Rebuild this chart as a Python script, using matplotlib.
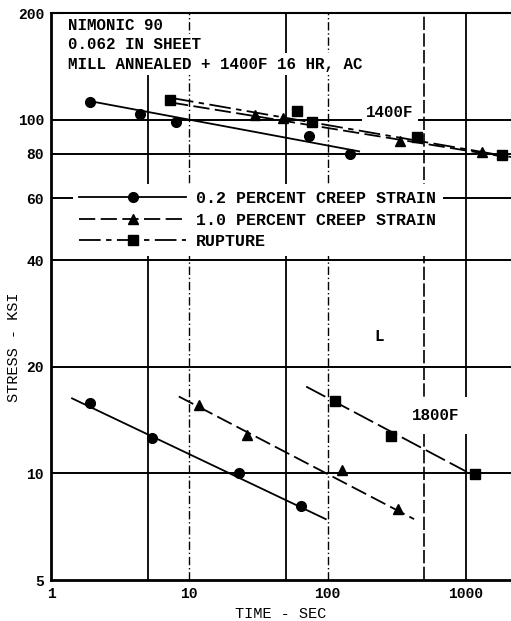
import numpy as np
import matplotlib
matplotlib.use("Agg")
import matplotlib.pyplot as plt
from matplotlib.lines import Line2D
from matplotlib.legend_handler import HandlerLine2D

plt.rcParams['font.family'] = ['Liberation Mono', 'DejaVu Sans Mono']
plt.rcParams['font.weight'] = 'bold'

# 1400 F test points (time in sec, stress in ksi)
t_c02_1400 = [1.9, 4.4, 8.0, 73, 145]
s_c02_1400 = [112, 104, 98.6, 89.6, 79.8]
t_c10_1400 = [30, 48, 334, 1307]
s_c10_1400 = [103, 101, 86.7, 80.8]
t_rup_1400 = [7.25, 60, 77, 443, 1824]
s_rup_1400 = [113.7, 106, 98.6, 89.1, 79.3]

# 1800 F test points
t_c02_1800 = [1.91, 5.37, 22.9, 64.2]
s_c02_1800 = [15.8, 12.6, 10.06, 8.08]
t_c10_1800 = [11.75, 26.1, 127, 323]
s_c10_1800 = [15.6, 12.85, 10.26, 7.93]
t_rup_1800 = [113, 287, 1164]
s_rup_1800 = [16.0, 12.8, 9.94]

# faired lines (end points)
fit_t_c02_1400 = [1.85, 169]
fit_s_c02_1400 = [113, 81.3]
fit_t_c10_1400 = [7.5, 1983]
fit_s_c10_1400 = [111.6, 78.3]
fit_t_rup_1400 = [7.5, 2155]
fit_s_rup_1400 = [115, 78.3]
fit_t_c02_1800 = [1.42, 97]
fit_s_c02_1800 = [16.3, 7.43]
fit_t_c10_1800 = [8.4, 422]
fit_s_c10_1800 = [16.5, 7.43]
fit_t_rup_1800 = [70, 1018]
fit_s_rup_1800 = [17.6, 10.1]

x_grid_solid = [5, 50, 1000]
x_grid_dashdot = [10, 100]
x_grid_dashed = [500]
y_grid = [10, 20, 40, 60, 80, 100]
x_ticks = [1, 10, 100, 1000]
y_ticks = [5, 10, 20, 40, 60, 80, 100, 200]

fig = plt.figure(figsize=(5.11, 6.21), dpi=100)
ax = fig.add_axes([51/511, 41/621, 460/511, 567/621])
ax.set_xscale('log')
ax.set_yscale('log')
ax.set_xlim(1, 2120)
ax.set_ylim(5, 200)

for x in x_grid_solid:
    ax.axvline(x, color='black', lw=1.3, zorder=1)
for x in x_grid_dashdot:
    ax.axvline(x, color='black', lw=1.0, ls=(0, (6, 2, 1, 2)), zorder=1)
for x in x_grid_dashed:
    ax.axvline(x, color='black', lw=1.2, ls=(0, (8, 2)), zorder=1)
for y in y_grid:
    ax.axhline(y, color='black', lw=1.4, zorder=1)

ls_c02 = '-'
ls_c10 = (0, (9, 3))
ls_rup = (0, (12, 3, 3, 3))
lw = 1.3

ax.plot(fit_t_c02_1400, fit_s_c02_1400, color='black', lw=lw, ls=ls_c02)
ax.plot(fit_t_c10_1400, fit_s_c10_1400, color='black', lw=lw, ls=ls_c10)
ax.plot(fit_t_rup_1400, fit_s_rup_1400, color='black', lw=lw, ls=ls_rup)
ax.plot(fit_t_c02_1800, fit_s_c02_1800, color='black', lw=lw, ls=ls_c02)
ax.plot(fit_t_c10_1800, fit_s_c10_1800, color='black', lw=lw, ls=ls_c10)
ax.plot(fit_t_rup_1800, fit_s_rup_1800, color='black', lw=lw, ls=(0, (12, 3)))

ax.plot(t_c02_1400, s_c02_1400, 'ko', ms=7, ls='none')
ax.plot(t_c02_1800, s_c02_1800, 'ko', ms=7, ls='none')
ax.plot(t_c10_1400, s_c10_1400, 'k^', ms=7, ls='none')
ax.plot(t_c10_1800, s_c10_1800, 'k^', ms=7, ls='none')
ax.plot(t_rup_1400, s_rup_1400, 'ks', ms=6.5, ls='none')
ax.plot(t_rup_1800, s_rup_1800, 'ks', ms=6.5, ls='none')

# header block
white = dict(facecolor='white', edgecolor='none', pad=2.5)
header = ["NIMONIC 90", "0.062 IN SHEET", "MILL ANNEALED + 1400F 16 HR, AC"]
for i, line in enumerate(header):
    ax.text(0.037, 0.978 - i * 0.034, line, transform=ax.transAxes,
            fontsize=11.4, va='center', ha='left', bbox=white, zorder=4)

ax.text(283, 104.5, "1400F", fontsize=11.4, ha='center', va='center',
        bbox=dict(facecolor='white', edgecolor='none', pad=3), zorder=4)
ax.text(600, 14.6, "1800F", fontsize=11.4, ha='center', va='center',
        bbox=dict(facecolor='white', edgecolor='none', pad=8), zorder=4)
ax.text(235, 24.4, "L", fontsize=11.4, ha='center', va='center')


class LeftMarker(HandlerLine2D):
    def get_xdata(self, legend, xdescent, ydescent, width, height, fontsize):
        return (np.array([-xdescent, -xdescent + width]),
                np.array([-xdescent]))


handles = [
    Line2D([], [], color='black', lw=lw, ls=ls_c02, marker='o', ms=7),
    Line2D([], [], color='black', lw=lw, ls=ls_c10, marker='^', ms=7),
    Line2D([], [], color='black', lw=lw, ls=ls_rup, marker='s', ms=6.5),
]
labels = ["0.2 PERCENT CREEP STRAIN", "1.0 PERCENT CREEP STRAIN", "RUPTURE"]
leg = ax.legend(handles, labels, loc='upper left',
                bbox_to_anchor=(0.047, 0.698), borderaxespad=0,
                prop={'size': 12, 'weight': 'bold'},
                handlelength=6.4, handletextpad=0.6, labelspacing=0.4,
                borderpad=0.4, frameon=True, fancybox=False,
                handler_map={Line2D: LeftMarker()})
leg.get_frame().set_facecolor('white')
leg.get_frame().set_edgecolor('none')
leg.get_frame().set_alpha(1)

ax.set_xticks(x_ticks)
ax.set_xticklabels([str(v) for v in x_ticks])
ax.set_yticks(y_ticks)
ax.set_yticklabels([str(v) for v in y_ticks])
ax.xaxis.set_minor_locator(matplotlib.ticker.NullLocator())
ax.yaxis.set_minor_locator(matplotlib.ticker.NullLocator())
ax.tick_params(length=0, labelsize=10.5, pad=5)

ax.set_xlabel("TIME - SEC", fontsize=11, labelpad=4)
ax.set_ylabel("STRESS - KSI", fontsize=11)
ax.yaxis.set_label_coords(-0.066, 0.41)

ax.spines['right'].set_visible(False)
ax.spines['left'].set_linewidth(2)
ax.spines['bottom'].set_linewidth(2)
ax.spines['top'].set_linewidth(1.5)

fig.savefig("out.png", dpi=100, facecolor='white')
